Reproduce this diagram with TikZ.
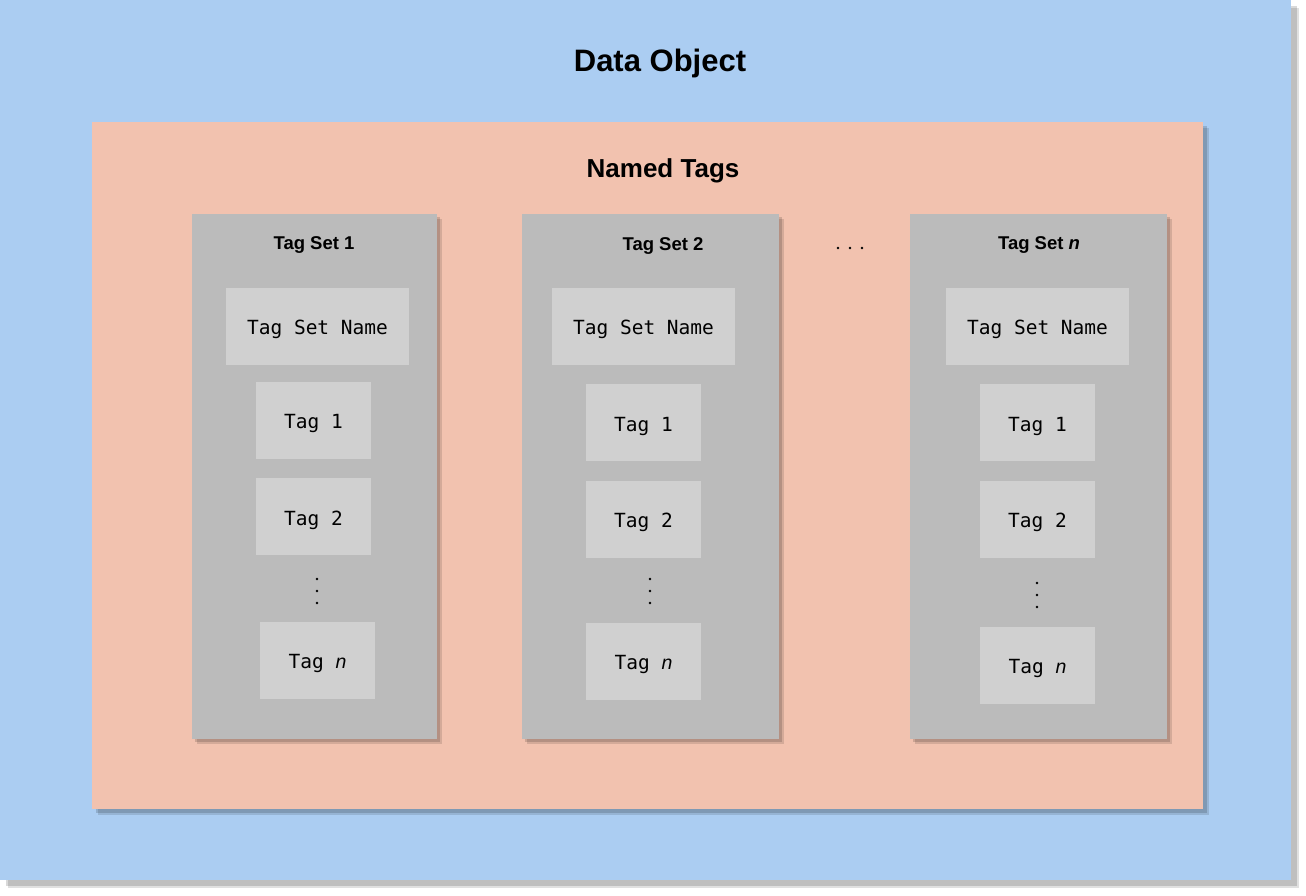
\documentclass[tikz,border=0pt]{standalone}
\usepackage{fontspec}
\setmainfont{Liberation Sans}
\setmonofont{DejaVu Sans Mono}
\usepackage{tikz}
\usetikzlibrary{shadows,positioning}

\definecolor{objblue}{RGB}{171,205,242}
\definecolor{tagsalmon}{RGB}{242,194,175}
\definecolor{setgray}{RGB}{187,187,187}
\definecolor{taglight}{RGB}{208,208,208}

\begin{document}
\begin{tikzpicture}[x=1pt, y=-1pt,
  softshadow/.style={drop shadow={shadow xshift=#1, shadow yshift=-#1, opacity=0.12, fill=black},
                     drop shadow={shadow xshift=#1-2pt, shadow yshift=-#1+2pt, opacity=0.15, fill=black}},
  objbox/.style={fill=objblue, anchor=north west, inner sep=0pt, minimum width=1291pt, minimum height=880pt, softshadow=8pt},
  tagsbox/.style={fill=tagsalmon, anchor=north west, inner sep=0pt, minimum width=1111pt, minimum height=687pt, softshadow=6pt},
  setbox/.style={fill=setgray, anchor=north west, inner sep=0pt, minimum height=525pt, softshadow=5pt},
  namebox/.style={fill=taglight, minimum width=183pt, minimum height=77pt, inner sep=0pt,
                  text height=16.5pt, text depth=0pt, font=\fontsize{19.5}{22}\ttfamily},
  tagbox/.style={namebox, minimum width=115pt},
  bigtitle/.style={font=\fontsize{31}{36}\selectfont\bfseries},
  midtitle/.style={font=\fontsize{26}{30}\selectfont\bfseries},
  settitle/.style={font=\fontsize{18.5}{22}\selectfont\bfseries}
]
  \useasboundingbox (0,0) rectangle (1306,896);

  \node[objbox] (obj) at (0,0) {};
  \node[bigtitle] (objlbl) at (660,63) {Data Object};

  \node[tagsbox] (named) at (92,122) {};
  \node[midtitle] (namedlbl) at (663,171) {Named Tags};

  % tag set 1
  \node[setbox, minimum width=245pt] (set1) at (192,214) {};
  \node[settitle] (set1lbl) at (314,245) {Tag Set 1};
  \node[namebox] (name1) at (317.5,326.5) {Tag Set Name};
  \node[tagbox] (tag11) at (313.5,420.5) {Tag 1};
  \node[tagbox, below=19pt of tag11] (tag12) {Tag 2};
  \node[tagbox] (tag1n) at (317.5,660.5) {Tag \textrm{\itshape n}};

  % tag set 2
  \node[setbox, minimum width=257pt] (set2) at (522,214) {};
  \node[settitle] (set2lbl) at (663,246) {Tag Set 2};
  \node[namebox] (name2) at (643.5,326.5) {Tag Set Name};
  \node[tagbox, below=19pt of name2] (tag21) {Tag 1};
  \node[tagbox, below=19pt of tag21] (tag22) {Tag 2};
  \node[tagbox, below=65pt of tag22] (tag2n) {Tag \textrm{\itshape n}};

  % tag set n
  \node[setbox, minimum width=257pt] (setn) at (910,214) {};
  \node[settitle] (setnlbl) at (1039,245) {Tag Set \textit{n}};
  \node[namebox] (namen) at (1037.5,326.5) {Tag Set Name};
  \node[tagbox, below=19pt of namen] (tagn1) {Tag 1};
  \node[tagbox, below=19pt of tagn1] (tagn2) {Tag 2};
  \node[tagbox, below=69pt of tagn2] (tagnn) {Tag \textrm{\itshape n}};

  % dots
  \foreach \x/\y in {317/579, 650/579, 1037/583}
    \foreach \d in {0,12,24}
      \fill (\x,\y+\d) circle (1.4);
  \foreach \x in {838,850,862}
    \fill (\x,248) circle (1.4);
\end{tikzpicture}
\end{document}
